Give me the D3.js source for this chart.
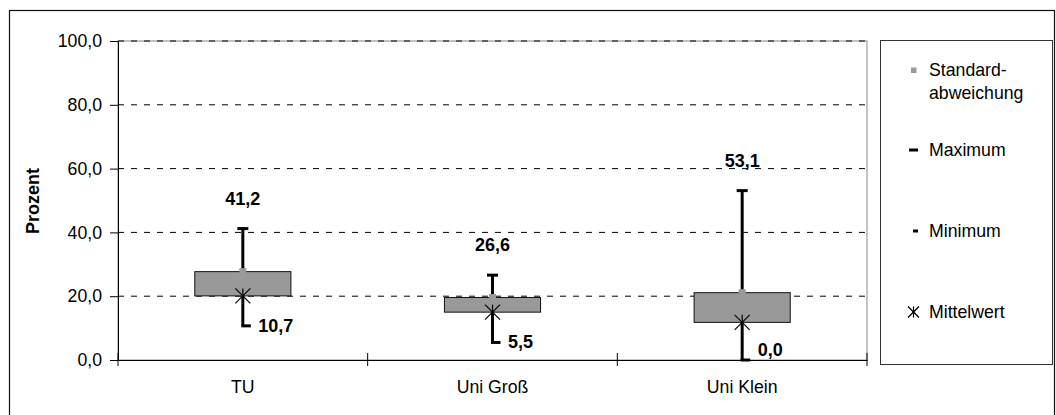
<!DOCTYPE html>
<html><head><meta charset="utf-8">
<script src="https://cdn.jsdelivr.net/npm/d3@7"></script>
<style>body{margin:0;background:#fff}svg{display:block;font-family:"Liberation Sans",Arial,sans-serif}</style>
</head><body><svg id="c" width="1056" height="415"></svg>
<script>
const categories = ["TU", "Uni Groß", "Uni Klein"];
const maxValues = [41.2, 26.6, 53.1];
const minValues = [10.7, 5.5, 0.0];
const meanValues = [20.1, 15.0, 11.8];
const sdValues = [7.6, 4.6, 9.3];
const yTicks = [0, 20, 40, 60, 80, 100];
const legendLabels = [["Standard-", "abweichung"], ["Maximum"], ["Minimum"], ["Mittelwert"]];
const yTitle = "Prozent";

const svg = d3.select("#c");
const fmt = v => d3.format(".1f")(v).replace(".", ",");
const L = 118, R = 867, T = 41, B = 360;
const x = d3.scaleBand().domain(categories).range([L, R]).padding(0);
const y = d3.scaleLinear().domain([0, 100]).range([B, T]);
const FS = 17.7;

svg.append("rect").attr("width", 1056).attr("height", 415).attr("fill", "#fff");
// outer chart border
svg.append("rect").attr("x", 9.5).attr("y", 10.5).attr("width", 1045).attr("height", 420)
  .attr("fill", "none").attr("stroke", "#111").attr("stroke-width", 1.2);

// plot area border
svg.append("rect").attr("x", L).attr("y", T).attr("width", R - L).attr("height", B - T)
  .attr("fill", "none").attr("stroke", "#8a8a8a").attr("stroke-width", 1);

// gridlines
svg.append("g").selectAll("line").data(yTicks.filter(d => d > 0)).join("line")
  .attr("x1", L).attr("x2", R).attr("y1", d => y(d)).attr("y2", d => y(d))
  .attr("stroke", "#000").attr("stroke-width", 1).attr("stroke-dasharray", "6,7");

// y axis
const yAxis = svg.append("g").attr("transform", `translate(${L},0)`)
  .call(d3.axisLeft(y).tickValues(yTicks).tickFormat(fmt).tickSize(8).tickSizeOuter(0).tickPadding(8));
yAxis.select(".domain").attr("stroke", "#000");
yAxis.selectAll("line").attr("stroke", "#000");
yAxis.selectAll("text").attr("font-size", FS).attr("font-family", "Liberation Sans, Arial, sans-serif").attr("fill", "#000");

// x axis
const xAxis = svg.append("g").attr("transform", `translate(0,${B})`)
  .call(d3.axisBottom(x).tickSize(0).tickPadding(20));
xAxis.select(".domain").attr("stroke", "#000");
xAxis.selectAll("text").attr("font-size", FS).attr("font-family", "Liberation Sans, Arial, sans-serif").attr("fill", "#000");
const bounds = categories.map(c => x(c)).concat([x(categories[categories.length - 1]) + x.bandwidth()]);
svg.append("g").selectAll("line").data(bounds).join("line")
  .attr("x1", d => d).attr("x2", d => d).attr("y1", B - 7).attr("y2", B + 6)
  .attr("stroke", "#000").attr("stroke-width", 1);

// y title
svg.append("text").attr("transform", "translate(33,201) rotate(-90)")
  .attr("text-anchor", "middle").attr("dominant-baseline", "central")
  .attr("font-weight", "bold").attr("font-size", 18).text(yTitle);

// marks
const bw = x.bandwidth() * 0.385;
const g = svg.append("g");
categories.forEach((c, i) => {
  const cx = x(c) + x.bandwidth() / 2;
  // whisker
  g.append("line").attr("x1", cx).attr("x2", cx).attr("y1", y(minValues[i])).attr("y2", y(maxValues[i]))
    .attr("stroke", "#000").attr("stroke-width", 3);
  g.append("line").attr("x1", cx - 5.5).attr("x2", cx + 5.5).attr("y1", y(maxValues[i])).attr("y2", y(maxValues[i]))
    .attr("stroke", "#000").attr("stroke-width", 3);
  g.append("line").attr("x1", cx - 1.5).attr("x2", cx + 8).attr("y1", y(minValues[i])).attr("y2", y(minValues[i]))
    .attr("stroke", "#000").attr("stroke-width", 3);
  // box
  const top = y(meanValues[i] + sdValues[i]), bot = y(meanValues[i]);
  g.append("rect").attr("x", cx - bw / 2).attr("y", top).attr("width", bw).attr("height", bot - top)
    .attr("fill", "#999999").attr("stroke", "#111").attr("stroke-width", 1);
  g.append("rect").attr("x", cx - 3.5).attr("y", top - 3.5).attr("width", 7).attr("height", 7)
    .attr("fill", "#999999");
  // mean star
  const my = y(meanValues[i]), s = 7.5;
  const star = g.append("g").attr("stroke", "#000").attr("stroke-width", 1.2);
  star.append("line").attr("x1", cx - s).attr("y1", my - s).attr("x2", cx + s).attr("y2", my + s);
  star.append("line").attr("x1", cx - s).attr("y1", my + s).attr("x2", cx + s).attr("y2", my - s);
  star.append("line").attr("x1", cx).attr("y1", my - s).attr("x2", cx).attr("y2", my + s);
  // labels
  g.append("text").attr("x", cx).attr("y", y(maxValues[i]) - 30)
    .attr("text-anchor", "middle").attr("dominant-baseline", "central")
    .attr("font-weight", "bold").attr("font-size", 18).text(fmt(maxValues[i]));
  g.append("text").attr("x", cx + 15.5).attr("y", Math.min(y(minValues[i]), y(0) - 10))
    .attr("text-anchor", "start").attr("dominant-baseline", "central")
    .attr("font-weight", "bold").attr("font-size", 18).text(fmt(minValues[i]));
});

// legend
svg.append("rect").attr("x", 880.5).attr("y", 40.5).attr("width", 172).attr("height", 324)
  .attr("fill", "#fff").attr("stroke", "#333").attr("stroke-width", 1);
const lg = svg.append("g");
const ly = [70, 150, 231, 312];
const mx = 913.5;
lg.append("rect").attr("x", mx - 2.5).attr("y", ly[0] - 2.5).attr("width", 5.5).attr("height", 5.5).attr("fill", "#999999");
lg.append("line").attr("x1", 909).attr("x2", 918).attr("y1", ly[1]).attr("y2", ly[1]).attr("stroke", "#000").attr("stroke-width", 3);
lg.append("line").attr("x1", 913).attr("x2", 918).attr("y1", ly[2]).attr("y2", ly[2]).attr("stroke", "#000").attr("stroke-width", 3);
const ls = lg.append("g").attr("stroke", "#000").attr("stroke-width", 1.2);
ls.append("line").attr("x1", mx - 5.5).attr("y1", ly[3] - 5.5).attr("x2", mx + 5.5).attr("y2", ly[3] + 5.5);
ls.append("line").attr("x1", mx - 5.5).attr("y1", ly[3] + 5.5).attr("x2", mx + 5.5).attr("y2", ly[3] - 5.5);
ls.append("line").attr("x1", mx).attr("y1", ly[3] - 5.5).attr("x2", mx).attr("y2", ly[3] + 5.5);
legendLabels.forEach((lines, i) => {
  lines.forEach((t, j) => {
    lg.append("text").attr("x", 929).attr("y", ly[i] + j * 23).attr("dominant-baseline", "central")
      .attr("font-size", FS).attr("fill", "#000").text(t);
  });
});
</script></body></html>
